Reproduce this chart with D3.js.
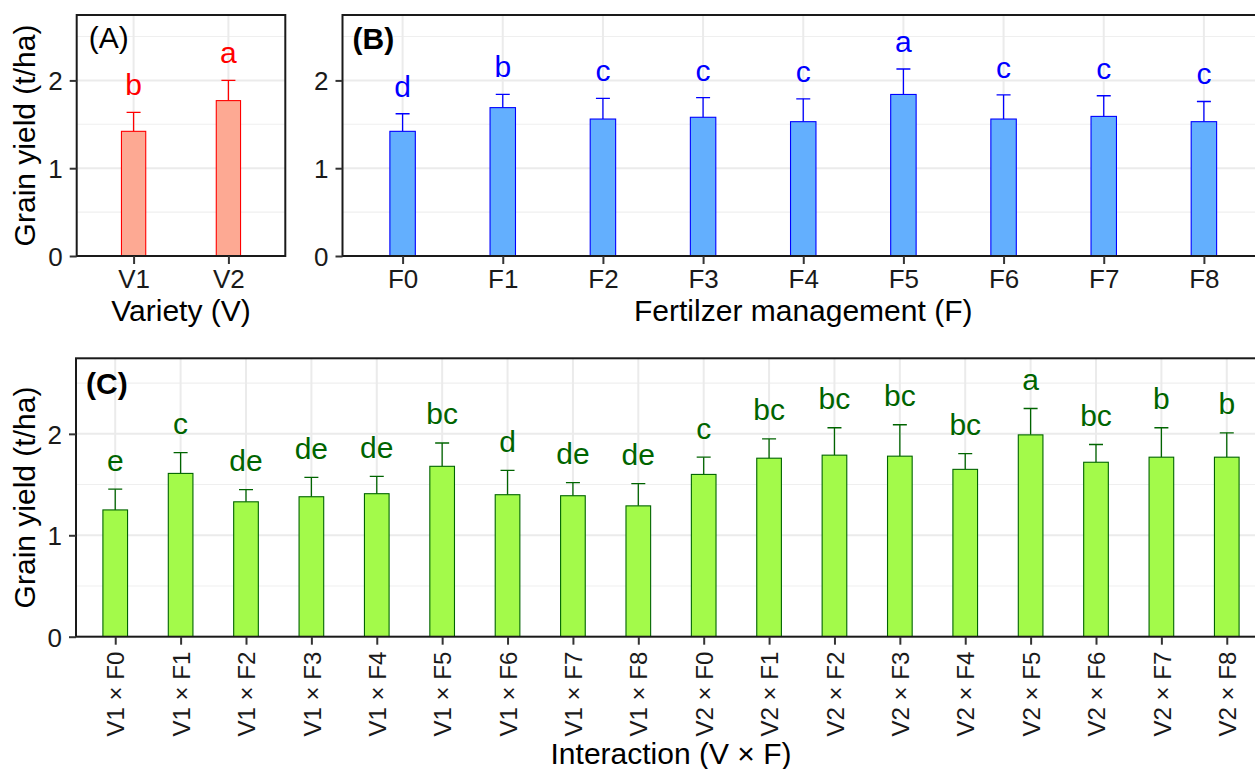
<!DOCTYPE html>
<html>
<head>
<meta charset="utf-8">
<script src="https://cdn.jsdelivr.net/npm/d3@7"></script>
<style>
  html, body { margin: 0; padding: 0; background: #fff; }
  svg { display: block; }
  text { font-family: "Liberation Sans", Arial, Helvetica, sans-serif; }
</style>
</head>
<body>
<svg id="chart" width="1255" height="769"></svg>
<script>
// ---------------- DATA ----------------
const yTicks = [0, 1, 2];
const yMinorTicks = [0.5, 1.5, 2.5];
const yMax = 2.745;

// Panel A: Variety
const varieties = ["V1", "V2"];
const varietyMean = [1.42, 1.77];
const varietySE = [0.215, 0.23];
const varietyLetters = ["b", "a"];

// Panel B: Fertilizer management
const fertilizers = ["F0", "F1", "F2", "F3", "F4", "F5", "F6", "F7", "F8"];
const fertMean = [1.42, 1.69, 1.56, 1.58, 1.53, 1.84, 1.56, 1.59, 1.53];
const fertSE = [0.20, 0.15, 0.235, 0.225, 0.26, 0.29, 0.275, 0.235, 0.23];
const fertLetters = ["d", "b", "c", "c", "c", "a", "c", "c", "c"];

// Panel C: Interaction
const interactions = ["V1 × F0", "V1 × F1", "V1 × F2", "V1 × F3", "V1 × F4", "V1 × F5", "V1 × F6", "V1 × F7", "V1 × F8",
                      "V2 × F0", "V2 × F1", "V2 × F2", "V2 × F3", "V2 × F4", "V2 × F5", "V2 × F6", "V2 × F7", "V2 × F8"];
const interMean = [1.25, 1.61, 1.33, 1.38, 1.41, 1.68, 1.40, 1.39, 1.29,
                   1.60, 1.76, 1.79, 1.78, 1.65, 1.99, 1.72, 1.77, 1.77];
const interSE = [0.205, 0.205, 0.12, 0.19, 0.17, 0.23, 0.24, 0.13, 0.22,
                 0.17, 0.19, 0.27, 0.31, 0.155, 0.26, 0.175, 0.29, 0.24];
const interLetters = ["e", "c", "de", "de", "de", "bc", "d", "de", "de",
                      "c", "bc", "bc", "bc", "bc", "a", "bc", "b", "b"];

// ---------------- DRAW ----------------
const svg = d3.select("#chart");
const FONT = "Liberation Sans, Arial, sans-serif";

function drawPanel(cfg) {
  const g = svg.append("g");
  const data = cfg.cats.map((c, i) => ({ cat: c, mean: cfg.mean[i], se: cfg.se[i], letter: cfg.letters[i] }));
  const x = d3.scalePoint().domain(cfg.cats).range([cfg.x0, cfg.x1]).padding(0.6);
  const y = d3.scaleLinear().domain([0, yMax]).range([cfg.y0, cfg.y1]);
  const step = x.step();
  const bw = step * cfg.barFrac;
  const capW = 14;

  // clip
  const clipId = "clip" + cfg.id;
  svg.append("clipPath").attr("id", clipId).append("rect")
    .attr("x", cfg.x0).attr("y", cfg.y1).attr("width", cfg.x1 - cfg.x0).attr("height", cfg.y0 - cfg.y1);
  const inner = g.append("g").attr("clip-path", `url(#${clipId})`);

  // minor grid
  inner.selectAll(".minor").data(yMinorTicks).join("line")
    .attr("x1", cfg.x0).attr("x2", cfg.x1)
    .attr("y1", d => y(d)).attr("y2", d => y(d))
    .attr("stroke", "#EFEFEF").attr("stroke-width", 1.1);
  // major grid
  inner.selectAll(".major").data(yTicks).join("line")
    .attr("x1", cfg.x0).attr("x2", cfg.x1)
    .attr("y1", d => y(d)).attr("y2", d => y(d))
    .attr("stroke", "#EBEBEB").attr("stroke-width", 2);
  inner.selectAll(".vmajor").data(cfg.cats).join("line")
    .attr("x1", d => x(d)).attr("x2", d => x(d))
    .attr("y1", cfg.y0).attr("y2", cfg.y1)
    .attr("stroke", "#EBEBEB").attr("stroke-width", 2);

  // error bars (upper only)
  inner.selectAll(".err").data(data).join("line")
    .attr("x1", d => x(d.cat)).attr("x2", d => x(d.cat))
    .attr("y1", d => y(d.mean)).attr("y2", d => y(d.mean + d.se))
    .attr("stroke", cfg.stroke).attr("stroke-width", 1.3);
  inner.selectAll(".cap").data(data).join("line")
    .attr("x1", d => x(d.cat) - capW / 2).attr("x2", d => x(d.cat) + capW / 2)
    .attr("y1", d => y(d.mean + d.se)).attr("y2", d => y(d.mean + d.se))
    .attr("stroke", cfg.stroke).attr("stroke-width", 1.3);

  // bars
  inner.selectAll(".bar").data(data).join("rect")
    .attr("x", d => x(d.cat) - bw / 2).attr("width", bw)
    .attr("y", d => y(d.mean)).attr("height", d => y(0) - y(d.mean))
    .attr("fill", cfg.fill).attr("stroke", cfg.stroke).attr("stroke-width", 1.1);

  // letters
  inner.selectAll(".lab").data(data).join("text")
    .attr("x", d => x(d.cat)).attr("y", d => y(d.mean + d.se) - cfg.labelGap)
    .attr("text-anchor", "middle").attr("font-size", 30)
    .attr("fill", cfg.stroke).text(d => d.letter);

  // panel tag
  g.append("text").attr("x", cfg.x0 + cfg.tagDx).attr("y", cfg.y1 + cfg.tagDy)
    .attr("font-size", 30).attr("font-weight", cfg.tagBold ? "bold" : "normal")
    .attr("fill", "#000").text(cfg.tag);

  // border
  g.append("rect").attr("x", cfg.x0).attr("y", cfg.y1)
    .attr("width", cfg.x1 - cfg.x0).attr("height", cfg.y0 - cfg.y1)
    .attr("fill", "none").attr("stroke", "#1a1a1a").attr("stroke-width", 2);

  // y axis
  const yAxis = d3.axisLeft(y).tickValues(yTicks).tickFormat(d3.format("d")).tickSize(7).tickPadding(7);
  const ya = g.append("g").attr("transform", `translate(${cfg.x0},0)`).call(yAxis);
  ya.select(".domain").remove();
  ya.selectAll(".tick line").attr("stroke", "#333").attr("stroke-width", 2);
  ya.selectAll(".tick text").attr("font-size", 26).attr("fill", "#1a1a1a")
    .attr("font-family", FONT).attr("dy", "0.36em");

  // x axis
  const xAxis = d3.axisBottom(x).tickSize(8).tickPadding(4);
  const xa = g.append("g").attr("transform", `translate(0,${cfg.y0})`).call(xAxis);
  xa.select(".domain").remove();
  xa.selectAll(".tick line").attr("stroke", "#333").attr("stroke-width", 2);
  const xt = xa.selectAll(".tick text").attr("font-size", cfg.rotate ? 24 : 26).attr("fill", "#1a1a1a")
    .attr("font-family", FONT);
  if (cfg.rotate) {
    xt.attr("transform", "rotate(-90)").attr("text-anchor", "end")
      .attr("x", -15).attr("y", 0).attr("dy", "0.36em");
  } else {
    xt.attr("y", 0).attr("dy", 31.5);
  }

  // axis titles
  g.append("text").attr("x", (cfg.x0 + cfg.x1) / 2).attr("y", cfg.xTitleY)
    .attr("text-anchor", "middle").attr("font-size", 30).attr("fill", "#000").text(cfg.xTitle);
  if (cfg.yTitle) {
    g.append("text").attr("transform", `translate(${cfg.yTitleX},${(cfg.y0 + cfg.y1) / 2}) rotate(-90)`)
      .attr("text-anchor", "middle").attr("font-size", 30).attr("fill", "#000").text(cfg.yTitle);
  }
}

drawPanel({
  id: "A", cats: varieties, mean: varietyMean, se: varietySE, letters: varietyLetters,
  x0: 76.7, x1: 285.3, y0: 256, y1: 15, barFrac: 0.256,
  fill: "#FDA993", stroke: "#FF0000", labelGap: 17,
  tag: "(A)", tagBold: false, tagDx: 12, tagDy: 33,
  xTitle: "Variety (V)", xTitleY: 321, yTitle: "Grain yield (t/ha)", yTitleX: 35
});

drawPanel({
  id: "B", cats: fertilizers, mean: fertMean, se: fertSE, letters: fertLetters,
  x0: 342.5, x1: 1264, y0: 256, y1: 15, barFrac: 0.254,
  fill: "#63AFFE", stroke: "#0000FF", labelGap: 17,
  tag: "(B)", tagBold: true, tagDx: 10, tagDy: 34,
  xTitle: "Fertilzer management (F)", xTitleY: 321
});

drawPanel({
  id: "C", cats: interactions, mean: interMean, se: interSE, letters: interLetters,
  x0: 76, x1: 1266, y0: 636.7, y1: 358.3, barFrac: 0.377, rotate: true,
  fill: "#A3FA4A", stroke: "#006400", labelGap: 18.5,
  tag: "(C)", tagBold: true, tagDx: 10, tagDy: 36,
  xTitle: "Interaction (V × F)", xTitleY: 763.5, yTitle: "Grain yield (t/ha)", yTitleX: 35
});
</script>
</body>
</html>
